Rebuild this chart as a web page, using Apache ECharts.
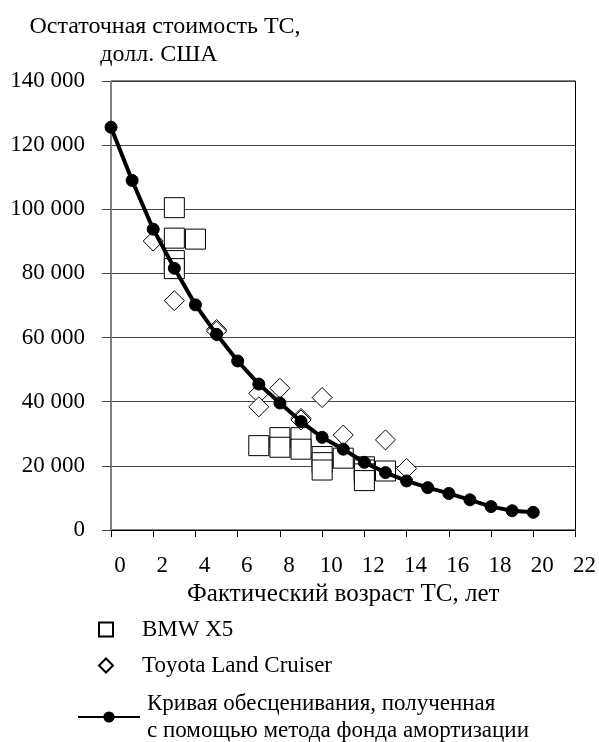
<!DOCTYPE html>
<html>
<head>
<meta charset="utf-8">
<script src="https://cdn.jsdelivr.net/npm/echarts@6/dist/echarts.min.js"></script>
<style>
  html, body { margin: 0; padding: 0; background: #fff; }
  #chart { width: 599px; height: 742px; }
</style>
</head>
<body>
<div id="chart"></div>
<script>
// возраст ТС, лет (кривая фонда амортизации)
var curveAge = [0, 1, 2, 3, 4, 5, 6, 7, 8, 9, 10, 11, 12, 13, 14, 15, 16, 17, 18, 19, 20];
var curveValue = [125600, 109000, 93800, 81600, 70200, 61000, 52700, 45500, 39600, 33800, 28900,
                  25200, 21100, 17900, 15300, 13200, 11400, 9400, 7300, 6000, 5500];

// BMW X5
var bmwAge = [3, 3, 3, 3, 4, 7, 8, 8, 9, 9, 10, 10, 10, 11, 12, 12, 12, 12, 13];
var bmwValue = [100500, 91000, 84000, 81500, 90700, 26300, 28800, 25800, 28800, 25200,
                22900, 21000, 18700, 22400, 19700, 18700, 17500, 15400, 18400];

// Toyota Land Cruiser
var toyotaAge = [2, 3, 5, 5, 7, 7, 8, 9, 9, 10, 11, 13, 14];
var toyotaValue = [90100, 71500, 62500, 62000, 42600, 38400, 44200, 34800, 34300, 41300, 29600, 28100, 19200];

var yTitle = ['Остаточная стоимость ТС,', 'долл. США'];
var xTitle = 'Фактический возраст ТС, лет';
var curveName = 'Кривая обесценивания, полученная\nс помощью метода фонда амортизации';

function pairs(xs, ys) {
    return xs.map(function (x, i) { return [x, ys[i]]; });
}

var font = '"Liberation Serif", "Times New Roman", serif';

var myChart = echarts.init(document.getElementById('chart'), null, {renderer: 'canvas'});
var option = {
    animation: false,
    backgroundColor: '#fff',
    textStyle: {fontFamily: font, color: '#000'},
    graphic: [
        {type: 'text', x: 165, y: 27, style: {text: yTitle[0], fontFamily: font, fontSize: 24, fill: '#000', align: 'center', verticalAlign: 'middle'}},
        {type: 'text', x: 159, y: 55, style: {text: yTitle[1], fontFamily: font, fontSize: 24, fill: '#000', align: 'center', verticalAlign: 'middle'}}
    ],
    grid: {left: 111, right: 22, top: 81, bottom: 212, show: true, borderColor: '#000', borderWidth: 1},
    legend: [
        {
            orient: 'vertical', left: 93, top: 613, itemWidth: 14, itemHeight: 14, itemGap: 13,
            textStyle: {fontFamily: font, fontSize: 23, color: '#000', padding: [0, 0, 0, 24]},
            itemStyle: {borderWidth: 2},
            data: ['BMW X5', 'Toyota Land Cruiser']
        },
        {
            orient: 'vertical', left: 72, top: 685, itemWidth: 62, itemHeight: 14,
            textStyle: {fontFamily: font, fontSize: 23, lineHeight: 27, color: '#000', padding: [0, 0, 0, 2]},
            data: [curveName]
        }
    ],
    xAxis: {
        type: 'value', min: 0, max: 22, interval: 2,
        name: xTitle, nameLocation: 'middle', nameGap: 48,
        nameTextStyle: {fontFamily: font, fontSize: 25, color: '#000'},
        axisLine: {show: true, lineStyle: {color: '#000', width: 1}},
        axisTick: {show: true, inside: false, length: 7, lineStyle: {color: '#000'}},
        axisLabel: {fontFamily: font, fontSize: 23, color: '#000', margin: 24, padding: [0, 0, 0, 18]},
        splitLine: {show: false}
    },
    yAxis: {
        type: 'value', min: 0, max: 140000, interval: 20000,
        axisLine: {show: true, lineStyle: {color: '#808080', width: 1}},
        axisTick: {show: true, inside: false, length: 9, lineStyle: {color: '#444'}},
        axisLabel: {
            fontFamily: font, fontSize: 23, color: '#000', margin: 26,
            formatter: function (v) { return String(v).replace(/\B(?=(\d{3})+(?!\d))/g, ' '); }
        },
        splitLine: {show: true, lineStyle: {color: '#444', width: 1}}
    },
    series: [
        {
            name: 'BMW X5', type: 'scatter', symbol: 'rect', symbolSize: 20,
            itemStyle: {color: '#fff', borderColor: '#000', borderWidth: 1, opacity: 1},
            data: pairs(bmwAge, bmwValue), z: 3
        },
        {
            name: 'Toyota Land Cruiser', type: 'scatter', symbol: 'diamond', symbolSize: 20,
            itemStyle: {color: '#fff', borderColor: '#000', borderWidth: 1, opacity: 1},
            data: pairs(toyotaAge, toyotaValue), z: 3
        },
        {
            name: curveName, type: 'line', symbol: 'circle', symbolSize: 12,
            lineStyle: {color: '#000', width: 4},
            itemStyle: {color: '#000', borderColor: '#000'},
            data: pairs(curveAge, curveValue), z: 4
        }
    ]
};
myChart.setOption(option);
</script>
</body>
</html>
